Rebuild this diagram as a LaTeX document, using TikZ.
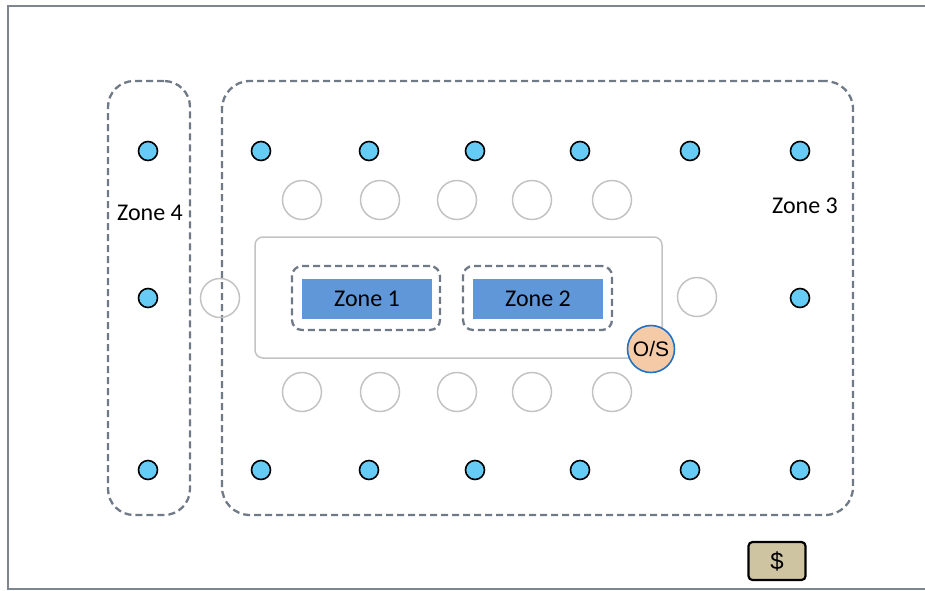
\documentclass[tikz,border=0pt]{standalone}
\usepackage{fontspec}
\setmainfont{Carlito}
\newfontfamily\arialfont{Liberation Sans}
\usepackage{tikz}
\usetikzlibrary{shapes,positioning}
\usepackage{xcolor}
\definecolor{frgray}{RGB}{125,133,143}
\definecolor{zngray}{RGB}{112,122,135}
\definecolor{seatgray}{RGB}{195,195,195}
\definecolor{dotblue}{RGB}{102,204,245}
\definecolor{znblue}{RGB}{95,151,216}
\definecolor{osfill}{RGB}{245,203,167}
\definecolor{osline}{RGB}{30,115,200}
\definecolor{cashfill}{RGB}{207,196,162}
\tikzstyle{zonebox} = [rectangle, rounded corners=28pt, draw=zngray, line width=2.3pt, dash pattern=on 7pt off 4pt, inner sep=0pt]
\tikzstyle{subzone} = [rectangle, rounded corners=10pt, draw=zngray, line width=2.3pt, dash pattern=on 7pt off 4pt, minimum height=64pt, inner sep=0pt]
\tikzstyle{zonefill} = [rectangle, fill=znblue, minimum width=130pt, minimum height=40pt, inner sep=0pt, font=\fontsize{24}{28}\selectfont]
\tikzstyle{light} = [circle, draw=black, fill=dotblue, line width=1.6pt, minimum size=19pt, inner sep=0pt]
\tikzstyle{seat} = [circle, draw=seatgray, line width=1.5pt, minimum size=39pt, inner sep=0pt]
\tikzstyle{zonelabel} = [font=\fontsize{24}{28}\selectfont]

\begin{document}
\begin{tikzpicture}[x=1pt,y=-1pt]
\useasboundingbox (0,0) rectangle (925,590);
% Frame
\draw[frgray, line width=2.2pt] (925,6) -- (8,6) -- (8,589) -- (925,589);

% Zones 4 and 3
\node[zonebox, rounded corners=26pt, minimum width=82pt, minimum height=434pt] (zonefour) at (149,298) {};
\node[zonebox, minimum width=631pt, minimum height=434pt] (zonethree) at (537.5,298) {};
\node[zonelabel] (labelfour) at (150,213) {Zone 4};
\node[zonelabel] (labelthree) at (805,206) {Zone 3};

% Table
\node[rectangle, rounded corners=8pt, draw=seatgray, line width=1.5pt, minimum width=407pt, minimum height=121pt] (table) at (458.5,297.5) {};

% Zones 1 and 2
\node[subzone, minimum width=148pt] (zoneone) at (366,298) {};
\node[zonefill] (fillone) at (367,299) {Zone 1};
\node[subzone, minimum width=149pt] (zonetwo) at (537.5,298) {};
\node[zonefill] (filltwo) at (538,299) {Zone 2};

% Seats
\node[seat] (seatt1) at (302,200) {};
\node[seat] (seatt2) at (380,200) {};
\node[seat] (seatt3) at (457,200) {};
\node[seat] (seatt4) at (532,200) {};
\node[seat] (seatt5) at (612,200) {};
\node[seat] (seatb1) at (302,392) {};
\node[seat] (seatb2) at (380,392) {};
\node[seat] (seatb3) at (457,392) {};
\node[seat] (seatb4) at (532,392) {};
\node[seat] (seatb5) at (612,392) {};
\node[seat] (seatl) at (220,298) {};
\node[seat] (seatr) at (697,297) {};

% Lights
\node[light] (lfour1) at (148,151) {};
\node[light] (lfour2) at (148,298) {};
\node[light] (lfour3) at (148,470) {};
\node[light] (lt1) at (261,151) {};
\node[light] (lt2) at (369,151) {};
\node[light] (lt3) at (475,151) {};
\node[light] (lt4) at (580,151) {};
\node[light] (lt5) at (690,151) {};
\node[light] (lt6) at (800,151) {};
\node[light] (lm6) at (800,298) {};
\node[light] (lb1) at (261,470) {};
\node[light] (lb2) at (369,470) {};
\node[light] (lb3) at (475,470) {};
\node[light] (lb4) at (580,470) {};
\node[light] (lb5) at (690,470) {};
\node[light] (lb6) at (800,470) {};

% O/S and cash
\node[circle, draw=osline, fill=osfill, line width=1.6pt, minimum size=47pt, inner sep=0pt, font=\arialfont\fontsize{21}{24}\selectfont] (os) at (651,349) {O/S};
\node[rectangle, rounded corners=4pt, draw=black, fill=cashfill, line width=2.2pt, minimum width=57pt, minimum height=38pt, inner sep=0pt, font=\arialfont\fontsize{24}{28}\selectfont] (cash) at (777,561) {\$};
\end{tikzpicture}
\end{document}
